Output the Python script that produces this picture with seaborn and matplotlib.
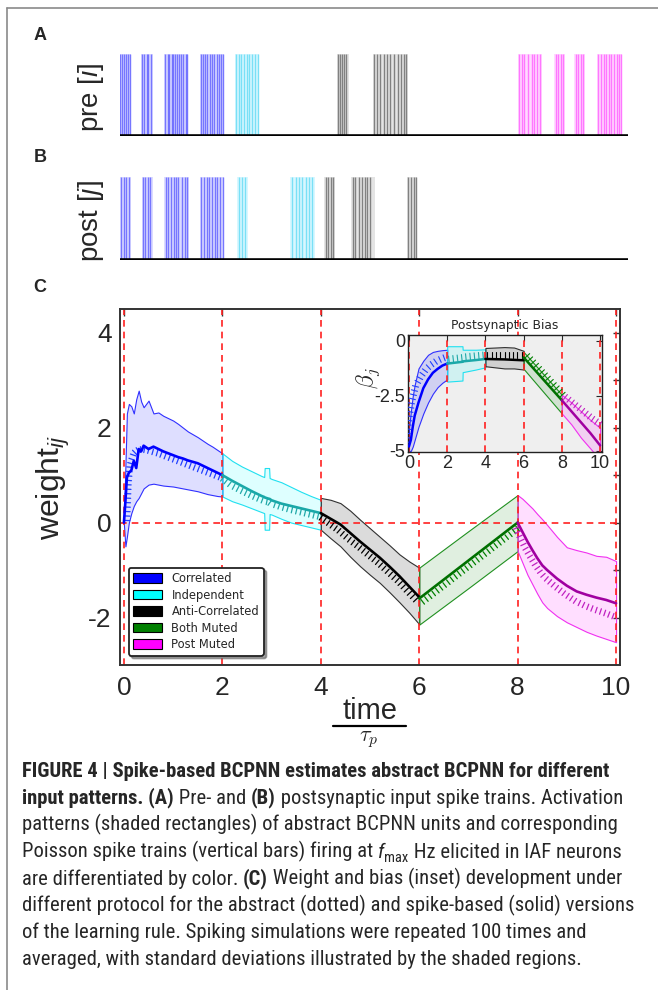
import numpy as np
import pandas as pd
import matplotlib
matplotlib.use("Agg")
import matplotlib.pyplot as plt
import seaborn as sns
from matplotlib import patheffects as pe
from matplotlib.patches import Patch
from matplotlib.lines import Line2D
from matplotlib.colors import to_rgba
from matplotlib import font_manager as fm

# ------------------------------------------------------------------ data
# Panel A: presynaptic spike trains (time / tau_p)
pre_corr_spikes = [0.0, 0.03, 0.07, 0.11, 0.15, 0.19, 0.44, 0.48, 0.53, 0.56, 0.61,
                   0.90, 0.95, 0.98, 1.03, 1.06, 1.10, 1.14, 1.18, 1.21, 1.26, 1.31, 1.34,
                   1.61, 1.65, 1.69, 1.73, 1.78, 1.83, 1.87, 1.92, 1.97, 2.01, 2.05]
pre_corr_patterns = [(0.0, 0.21), (0.42, 0.65), (0.88, 1.36), (1.58, 2.07)]
pre_indep_spikes = [2.30, 2.36, 2.41, 2.46, 2.52, 2.57, 2.62, 2.69, 2.74]
pre_indep_patterns = [(2.28, 2.77)]
pre_anti_spikes = [4.34, 4.38, 4.42, 4.46, 4.50, 5.05, 5.11, 5.18, 5.25, 5.31, 5.38,
                   5.46, 5.54, 5.60, 5.65, 5.70]
pre_anti_patterns = [(4.32, 4.55), (5.03, 5.74)]
pre_post_spikes = [7.95, 8.00, 8.05, 8.13, 8.20, 8.25, 8.31, 8.37, 8.68, 8.73, 8.78, 8.83,
                   9.08, 9.13, 9.18, 9.22, 9.53, 9.58, 9.64, 9.69, 9.74, 9.79, 9.85,
                   9.90, 9.95, 9.98]
pre_post_patterns = [(7.92, 8.41), (8.65, 8.86), (9.05, 9.26), (9.50, 10.0)]

# Panel B: postsynaptic spike trains
post_corr_spikes = [0.01, 0.07, 0.11, 0.17, 0.46, 0.50, 0.55, 0.60,
                    0.91, 0.96, 1.02, 1.07, 1.12, 1.16, 1.23, 1.29, 1.33,
                    1.61, 1.67, 1.72, 1.77, 1.83, 1.88, 1.93, 1.99, 2.04]
post_corr_patterns = [(0.0, 0.21), (0.43, 0.65), (0.88, 1.37), (1.58, 2.07)]
post_indep_spikes = [2.37, 2.42, 2.49, 3.43, 3.50, 3.57, 3.63, 3.70, 3.76, 3.83]
post_indep_patterns = [(2.33, 2.54), (3.39, 3.88)]
post_anti_spikes = [4.10, 4.15, 4.20, 4.24, 4.63, 4.68, 4.75, 4.81, 4.87, 4.92, 4.98,
                    5.74, 5.80, 5.85, 5.89]
post_anti_patterns = [(4.07, 4.28), (4.59, 5.08), (5.72, 5.92)]

# Panel C: weight_ij  (spike-based mean, std band, abstract)
w_corr_t = [0, 0.03, 0.06, 0.1, 0.15, 0.2, 0.25, 0.3, 0.35, 0.4, 0.5, 0.6, 0.7, 0.8,
            0.9, 1.0, 1.1, 1.2, 1.3, 1.4, 1.5, 1.6, 1.7, 1.8, 1.9, 2.0]
w_corr_mean = [0.0, 0.45, 0.95, 1.05, 1.1, 1.3, 1.15, 1.55, 1.5, 1.62, 1.55, 1.6, 1.55,
               1.5, 1.46, 1.42, 1.38, 1.35, 1.31, 1.28, 1.25, 1.2, 1.15, 1.1, 1.05, 1.0]
w_corr_hi = [0.05, 1.2, 2.3, 2.5, 2.45, 2.3, 2.6, 2.78, 2.55, 2.43, 2.57, 2.3, 2.32, 2.25,
             2.2, 2.15, 2.08, 2.0, 1.92, 1.86, 1.8, 1.73, 1.66, 1.6, 1.53, 1.46]
w_corr_lo = [-0.05, -0.5, -0.3, 0.0, 0.2, 0.35, 0.45, 0.52, 0.62, 0.72, 0.8, 0.82, 0.8,
             0.78, 0.77, 0.76, 0.74, 0.72, 0.7, 0.68, 0.66, 0.63, 0.6, 0.58, 0.56, 0.55]
w_corr_abs = [0.0, 0.8, 1.2, 1.35, 1.5, 1.55, 1.58, 1.6, 1.6, 1.6, 1.58, 1.55, 1.52, 1.48,
              1.44, 1.4, 1.36, 1.32, 1.28, 1.24, 1.2, 1.16, 1.12, 1.08, 1.04, 1.0]

w_ind_t = [2.0, 2.2, 2.4, 2.6, 2.8, 2.85, 2.86, 2.95, 2.96, 3.0, 3.2, 3.4, 3.6, 3.8, 4.0]
w_ind_mean = [1.0, 0.88, 0.77, 0.66, 0.56, 0.54, 0.53, 0.5, 0.5, 0.47, 0.4, 0.35, 0.3, 0.25, 0.2]
w_ind_hi = [1.46, 1.3, 1.18, 1.08, 0.98, 0.96, 1.15, 1.15, 0.94, 0.92, 0.85, 0.75, 0.65, 0.56, 0.48]
w_ind_lo = [0.55, 0.45, 0.38, 0.3, 0.22, 0.2, -0.15, -0.15, 0.18, 0.17, 0.08, 0.0, -0.05, -0.1, -0.15]
w_ind_abs = [1.0, 0.84, 0.73, 0.63, 0.54, 0.52, 0.51, 0.49, 0.49, 0.46, 0.39, 0.33, 0.28, 0.23, 0.18]

w_anti_t = [4.0, 4.2, 4.4, 4.6, 4.8, 5.0, 5.2, 5.4, 5.6, 5.8, 6.0]
w_anti_mean = [0.2, 0.08, -0.04, -0.22, -0.4, -0.57, -0.74, -0.93, -1.13, -1.35, -1.57]
w_anti_hi = [0.52, 0.48, 0.41, 0.25, 0.06, -0.12, -0.3, -0.48, -0.67, -0.82, -0.95]
w_anti_lo = [-0.15, -0.33, -0.5, -0.72, -0.92, -1.1, -1.27, -1.47, -1.68, -1.9, -2.14]
w_anti_abs = [0.18, 0.03, -0.12, -0.3, -0.46, -0.63, -0.8, -0.99, -1.18, -1.4, -1.62]

w_both_t = [6.0, 7.0, 8.0]
w_both_mean = [-1.6, -0.8, 0.0]
w_both_hi = [-0.95, -0.18, 0.58]
w_both_lo = [-2.15, -1.38, -0.6]
w_both_abs = [-1.65, -0.85, -0.05]

w_post_t = [8.0, 8.1, 8.2, 8.3, 8.4, 8.5, 8.6, 8.8, 9.0, 9.2, 9.4, 9.6, 9.8, 10.0]
w_post_mean = [0.0, -0.2, -0.4, -0.58, -0.75, -0.9, -1.0, -1.18, -1.33, -1.45, -1.52,
               -1.58, -1.63, -1.7]
w_post_hi = [0.58, 0.5, 0.4, 0.3, 0.18, 0.07, -0.05, -0.3, -0.52, -0.58, -0.63, -0.7,
             -0.72, -0.81]
w_post_lo = [-0.6, -0.85, -1.1, -1.3, -1.5, -1.68, -1.8, -1.97, -2.1, -2.2, -2.3, -2.38,
             -2.45, -2.52]
w_post_abs = [-0.05, -0.28, -0.5, -0.68, -0.85, -1.0, -1.12, -1.3, -1.46, -1.6, -1.7,
              -1.78, -1.85, -1.93]

# Inset: postsynaptic bias beta_j
b_corr_t = [0, 0.1, 0.2, 0.3, 0.5, 0.75, 1.0, 1.25, 1.5, 1.75, 2.0]
b_corr_mean = [-4.8, -4.5, -3.9, -3.4, -2.8, -2.15, -1.75, -1.45, -1.27, -1.12, -1.03]
b_corr_abs = [-4.7, -3.9, -3.3, -2.8, -2.1, -1.7, -1.4, -1.2, -1.05, -0.95, -0.87]
b_corr_hi = [-4.0, -3.2, -2.5, -2.0, -1.25, -0.9, -0.63, -0.5, -0.45, -0.42, -0.4]
b_corr_lo = [-5.0, -5.0, -4.8, -4.5, -3.9, -3.3, -2.8, -2.4, -2.1, -1.9, -1.75]

b_ind_t = [2.0, 2.8, 2.81, 3.5, 4.0]
b_ind_mean = [-1.03, -0.95, -0.93, -0.87, -0.82]
b_ind_abs = [-0.98, -0.9, -0.88, -0.82, -0.78]
b_ind_hi = [-0.24, -0.24, -0.4, -0.4, -0.38]
b_ind_lo = [-1.85, -1.8, -1.42, -1.3, -1.2]

b_anti_t = [4.0, 4.5, 5.0, 5.5, 6.0]
b_anti_mean = [-0.82, -0.83, -0.84, -0.86, -0.88]
b_anti_abs = [-0.78, -0.78, -0.78, -0.78, -0.78]
b_anti_hi = [-0.32, -0.3, -0.28, -0.3, -0.45]
b_anti_lo = [-1.15, -1.2, -1.25, -1.25, -1.3]

b_both_t = [6.0, 8.0]
b_both_mean = [-0.75, -2.7]
b_both_abs = [-0.7, -2.6]
b_both_hi = [-0.5, -2.45]
b_both_lo = [-1.27, -3.3]

b_post_t = [8.0, 8.5, 9.0, 9.5, 10.0]
b_post_mean = [-2.7, -3.2, -3.7, -4.2, -4.75]
b_post_abs = [-2.6, -2.95, -3.3, -3.65, -3.95]
b_post_hi = [-2.45, -2.8, -3.2, -3.6, -3.95]
b_post_lo = [-3.3, -3.8, -4.4, -4.9, -5.4]

protocols = ["Correlated", "Independent", "Anti-Correlated", "Both Muted", "Post Muted"]
legend_colors = ["#0000ff", "#00ffff", "#000000", "#008000", "#ff00ff"]
mean_colors = ["#0000ff", "#1aa8a8", "#000000", "#007000", "#a000a0"]
abs_colors = ["#2040ff", "#20a8a8", "#000000", "#008000", "#c020c0"]
band_face = ["#0000ff", "#00ffff", "#808080", "#008000", "#ff00ff"]
band_alpha = [0.13, 0.13, 0.28, 0.12, 0.13]
band_edge = ["#3030ff", "#20e0f0", "#303030", "#209020", "#f030f0"]

boundaries = [0, 2, 4, 6, 8, 10]
main_xticks = [0, 2, 4, 6, 8, 10]
main_yticks = [-2, -1, 0, 1, 2, 3, 4]
inset_yticks = [0, -2.5, -5]

# ------------------------------------------------------------------ style
sns.set_style("white")
plt.rcParams["font.family"] = ["Liberation Sans", "DejaVu Sans"]
plt.rcParams["axes.unicode_minus"] = False
plt.rcParams["mathtext.fontset"] = "custom"
plt.rcParams["mathtext.rm"] = "Liberation Sans"
plt.rcParams["mathtext.it"] = "Liberation Sans:italic"
plt.rcParams["mathtext.bf"] = "Liberation Sans:bold"
plt.rcParams["mathtext.sf"] = "Liberation Sans"

W, H = 658, 990
fig = plt.figure(figsize=(W / 100, H / 100), dpi=100)


def fx(px):
    return px / W


def fy(py):
    return 1 - py / H


# page frame (top & left edge)
fig.add_artist(Line2D([fx(7), 1], [fy(8), fy(8)], color="#8a8a8a", lw=1.2))
fig.add_artist(Line2D([fx(7), fx(7)], [fy(8), 0], color="#8a8a8a", lw=1.2))

# ------------------------------------------------------------------ spike panels
spike_style = {
    "corr": ("#6464ff", "#dcdcff"),
    "indep": ("#68dcf5", "#d8f7ff"),
    "anti": ("#707070", "#e4e4e4"),
    "post": ("#ff66ff", "#ffdaff"),
}


def spike_panel(rect, groups, label, label_y):
    axs = fig.add_axes(rect)
    for key, patterns, spikes in groups:
        col, face = spike_style[key]
        for a, b in patterns:
            axs.axvspan(a, b, ymin=0, ymax=1, color=face, lw=0, zorder=1)
        axs.vlines(spikes, 0, 1, color=col, lw=1.0, alpha=0.85, zorder=2)
    axs.axhline(0, color="black", lw=2.6, zorder=3)
    axs.set_xlim(-0.005, 10.12)
    axs.set_ylim(0, 1.0)
    axs.set_xticks([])
    axs.set_yticks([])
    for s in axs.spines.values():
        s.set_visible(False)
    axs.set_ylabel(label, fontsize=20)
    axs.yaxis.set_label_coords(-0.028, label_y)
    return axs


spike_panel([fx(120), fy(136), fx(628) - fx(120), fy(54) - fy(136)],
            [("corr", pre_corr_patterns, pre_corr_spikes),
             ("indep", pre_indep_patterns, pre_indep_spikes),
             ("anti", pre_anti_patterns, pre_anti_spikes),
             ("post", pre_post_patterns, pre_post_spikes)],
            r"pre [$i$]", 0.47)
spike_panel([fx(120), fy(260), fx(628) - fx(120), fy(177) - fy(260)],
            [("corr", post_corr_patterns, post_corr_spikes),
             ("indep", post_indep_patterns, post_indep_spikes),
             ("anti", post_anti_patterns, post_anti_spikes)],
            r"post [$j$]", 0.47)

for letter, py in [("A", 35), ("B", 158), ("C", 287)]:
    fig.text(fx(40), fy(py), letter, fontsize=13, fontweight="bold",
             ha="center", va="center")

# ------------------------------------------------------------------ main panel
ax = fig.add_axes([fx(120), fy(665), fx(620) - fx(120), fy(309) - fy(665)])

segments = [
    (w_corr_t, w_corr_mean, w_corr_hi, w_corr_lo, w_corr_abs),
    (w_ind_t, w_ind_mean, w_ind_hi, w_ind_lo, w_ind_abs),
    (w_anti_t, w_anti_mean, w_anti_hi, w_anti_lo, w_anti_abs),
    (w_both_t, w_both_mean, w_both_hi, w_both_lo, w_both_abs),
    (w_post_t, w_post_mean, w_post_hi, w_post_lo, w_post_abs),
]
inset_segments = [
    (b_corr_t, b_corr_mean, b_corr_hi, b_corr_lo, b_corr_abs),
    (b_ind_t, b_ind_mean, b_ind_hi, b_ind_lo, b_ind_abs),
    (b_anti_t, b_anti_mean, b_anti_hi, b_anti_lo, b_anti_abs),
    (b_both_t, b_both_mean, b_both_hi, b_both_lo, b_both_abs),
    (b_post_t, b_post_mean, b_post_hi, b_post_lo, b_post_abs),
]


def draw_segments(axx, segs, tick_angle, mean_lw, abs_lw, spacing, length):
    for i, (t, m, hi, lo, ab) in enumerate(segs):
        axx.fill_between(t, lo, hi, facecolor=to_rgba(band_face[i], band_alpha[i]),
                         edgecolor=band_edge[i], lw=0.8, zorder=1.5)
        axx.plot(t, ab, color=abs_colors[i], lw=abs_lw, zorder=3,
                 path_effects=[pe.TickedStroke(angle=tick_angle, spacing=spacing,
                                               length=length)])
        df = pd.DataFrame({"t": t, "v": m})
        sns.lineplot(data=df, x="t", y="v", ax=axx, color=mean_colors[i], lw=mean_lw,
                     sort=False, estimator=None, zorder=4)
    for b in boundaries:
        axx.axvline(b, color="#ff2020", ls=(0, (4, 3)), lw=1.2, zorder=2)
    axx.set_xlabel("")
    axx.set_ylabel("")


draw_segments(ax, segments, -90, 1.9, 0.9, 3.2, 1.3)
ax.axhline(0, color="#ff2020", ls=(0, (4, 3)), lw=1.2, zorder=2)
ax.set_xlim(-0.08, 10.08)
ax.set_ylim(-3, 4.5)
ax.set_xticks(main_xticks)
ax.set_xticklabels([str(v) for v in main_xticks])
ax.set_yticks(main_yticks)
ax.set_yticklabels([str(v) if v % 2 == 0 else "" for v in main_yticks])
ax.tick_params(axis="both", direction="in", length=5, width=1, labelsize=19,
               top=True, right=True, color="#333333")
ax.tick_params(axis="x", pad=8)
ax.tick_params(axis="y", pad=6)
for s in ax.spines.values():
    s.set_color("#333333")
    s.set_linewidth(1.4)

ax.set_ylabel(r"weight$_{ij}$", fontsize=23)
ax.yaxis.set_label_coords(-0.096, 0.5)

# composite x label: time / tau_p
fig.text(fx(370), fy(711), "time", fontsize=21, ha="center", va="center")
fig.add_artist(Line2D([fx(333), fx(406)], [fy(726), fy(726)], color="black", lw=1.6))
fig.text(fx(369), fy(739), r"$\tau_p$", fontsize=16, ha="center", va="center",
         math_fontfamily="cm")

handles = [Patch(facecolor=c, edgecolor="black", lw=0.8) for c in legend_colors]
leg = ax.legend(handles, protocols, loc="lower left", bbox_to_anchor=(0.006, 0.01),
                prop=fm.FontProperties(family="DejaVu Sans", size=8.3),
                handlelength=2.5, handleheight=0.9, labelspacing=0.3, borderpad=0.4,
                handletextpad=0.8, fancybox=True, shadow=True, framealpha=1,
                edgecolor="#222222")
leg.get_frame().set_linewidth(1.3)
leg.set_zorder(10)

# ------------------------------------------------------------------ inset
axi = fig.add_axes([fx(408), fy(452), fx(602) - fx(408), fy(335) - fy(452)])
axi.set_facecolor("#efefef")
draw_segments(axi, inset_segments, 90, 1.8, 0.8, 3.0, 1.5)
axi.set_xlim(-0.05, 10.1)
axi.set_ylim(-5.05, 0.27)
axi.set_xticks(main_xticks)
axi.set_xticklabels([str(v) for v in main_xticks])
axi.set_yticks(inset_yticks)
axi.set_yticklabels(["0", "-2.5", "-5"])
axi.tick_params(axis="both", direction="in", length=4, width=0.8, labelsize=13,
                top=True, right=True, pad=2)
for s in axi.spines.values():
    s.set_color("#222222")
    s.set_linewidth(1.0)
axi.set_title("Postsynaptic Bias", fontsize=8.8, family="DejaVu Sans", pad=4)
fig.text(fx(368), fy(378), r"$\beta_j$", fontsize=17, ha="center", va="center",
         rotation=90, math_fontfamily="cm")

# ------------------------------------------------------------------ caption
# pick a narrow sans family that has both regular and bold faces
_faces = {}
for f in fm.fontManager.ttflist:
    try:
        wt = int(f.weight)
    except (TypeError, ValueError):
        wt = 700 if "bold" in str(f.weight) else 400
    _faces.setdefault(f.name, []).append((wt, str(f.style), str(f.stretch)))

cap_family, cap_stretch = "Liberation Sans", "normal"
for cand in ["Liberation Sans Narrow", "Archivo Narrow", "Roboto Condensed",
             "PT Sans Narrow", "Fira Sans Condensed", "IBM Plex Sans Condensed",
             "Open Sans Condensed", "Encode Sans Condensed", "Barlow Semi Condensed"]:
    faces = _faces.get(cand, [])
    has_reg = any(w == 400 and s == "normal" for w, s, _ in faces)
    has_bold = any(w >= 600 and s == "normal" for w, s, _ in faces)
    if has_reg and has_bold:
        cap_family = cand
        cap_stretch = faces[0][2] if faces[0][2] in ("condensed", "semi-condensed",
                                                     "extra-condensed") else "normal"
        break

caption = [
    [("FIGURE 4 | Spike-based BCPNN estimates abstract BCPNN for different", "bold")],
    [("input patterns. (A)", "bold"), (" Pre- and ", "normal"), ("(B)", "bold"),
     (" postsynaptic input spike trains. Activation", "normal")],
    [("patterns (shaded rectangles) of abstract BCPNN units and corresponding", "normal")],
    [("Poisson spike trains (vertical bars) firing at ", "normal"), ("f", "italic"),
     ("max", "sub"), (" Hz elicited in IAF neurons", "normal")],
    [("are differentiated by color. ", "normal"), ("(C)", "bold"),
     (" Weight and bias (inset) development under", "normal")],
    [("different protocol for the abstract (dotted) and spike-based (solid) versions", "normal")],
    [("of the learning rule. Spiking simulations were repeated 100 times and", "normal")],
    [("averaged, with standard deviations illustrated by the shaded regions.", "normal")],
]

renderer = fig.canvas.get_renderer()


def props(kind, size):
    kw = dict(family=cap_family, stretch=cap_stretch)
    if kind == "bold":
        return fm.FontProperties(weight="bold", size=size, **kw)
    if kind == "italic":
        return fm.FontProperties(style="italic", size=size, **kw)
    if kind == "sub":
        return fm.FontProperties(size=size * 0.7, **kw)
    return fm.FontProperties(size=size, **kw)


def text_width(s, fp):
    t1 = fig.text(0, 0, "l" + s + "l", fontproperties=fp)
    t2 = fig.text(0, 0, "ll", fontproperties=fp)
    w = t1.get_window_extent(renderer).width - t2.get_window_extent(renderer).width
    t1.remove()
    t2.remove()
    return w


cap_size = 14.0
w_ref = text_width(caption[2][0][0], props("normal", cap_size))
cap_size = min(16.5, cap_size * 600.0 / w_ref)

x0 = 22
for k, line in enumerate(caption):
    base = 777 + 26.9 * k
    x = x0
    for s, kind in line:
        fp = props(kind, cap_size)
        dy = 4 if kind == "sub" else 0
        fig.text(fx(x), fy(base + dy), s, fontproperties=fp, ha="left", va="baseline")
        x += text_width(s, fp)

fig.savefig("out.png", dpi=100)
